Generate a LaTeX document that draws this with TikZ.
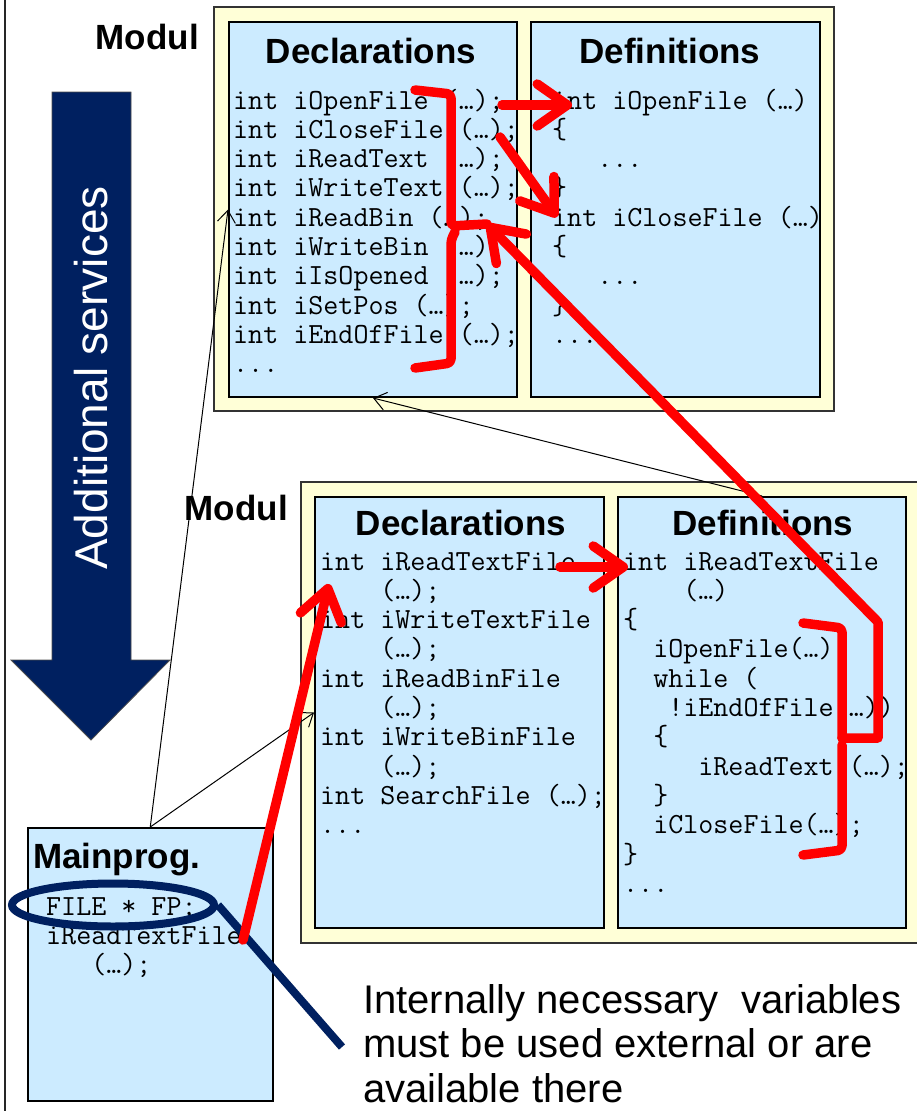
\documentclass[tikz,border=0pt]{standalone}
\usepackage{fontspec}
\setmainfont{Liberation Sans}
\setmonofont{Latin Modern Mono}
\usepackage{tikz}
\usetikzlibrary{arrows.meta, positioning, calc, shapes.geometric}

\definecolor{modyellow}{RGB}{255,255,215}
\definecolor{partblue}{RGB}{204,235,255}
\definecolor{navyblue}{RGB}{0,32,96}
\newcommand{\codefont}{\ttfamily\fontsize{29.2}{29.3}\selectfont}
\newcommand{\titlefont}{\bfseries\fontsize{35}{40}\selectfont}
\newcommand{\threedots}{...}

\begin{document}
\begin{tikzpicture}[x=1pt, y=-1pt,
    modbox/.style={draw=black!80, line width=1.5pt, fill=modyellow, inner sep=0pt, anchor=north west},
    partbox/.style={draw=black, line width=2pt, fill=partblue, inner sep=0pt, anchor=north west},
    title/.style={font=\titlefont, inner sep=0pt, anchor=base},
    code/.style={font=\codefont, inner sep=0pt, anchor=base west},
    link/.style={line width=1pt, -{Straight Barb[length=12pt,width=18pt]}},
    redline/.style={red, line width=9.5pt, line cap=round, line join=round},
    redarrow/.style={redline, -{Straight Barb[length=30pt,width=42pt,round]}},
    navyline/.style={navyblue, line width=8pt}]

    \useasboundingbox (0,0) rectangle (916,1111);
    \draw[line width=2.5pt, black!85] (5,-5) -- (5,1116);

    % big arrow on the left
    \filldraw[fill=navyblue, draw=black!70, line width=0.8pt]
        (52,92) -- (131,92) -- (131,660) -- (170,660) -- (91,740) -- (11,660) -- (52,660) -- cycle;
    \node[rotate=90, text=white, font=\fontsize{46}{50}\selectfont, inner sep=0pt] (services) at (91,378) {Additional services};

    % upper module
    \node[modbox, minimum width=620pt, minimum height=404pt] (topmod) at (213,6) {};
    \node[partbox, minimum width=288pt, minimum height=375pt] (topdecl) at (228,21) {};
    \node[partbox, minimum width=289pt, minimum height=375pt] (topdef) at (530,21) {};
    \node[title, anchor=base east] (topmodlabel) at (199,49) {Modul};
    \node[title] (topdecltitle) at (371,63) {Declarations};
    \node[title] (topdeftitle) at (670,63) {Definitions};

    \foreach \txt [count=\i] in {int iOpenFile (…);, int iCloseFile (…);, int iReadText (…);,
        int iWriteText (…);, int iReadBin (…);, int iWriteBin (…);, int iIsOpened (…);,
        int iSetPos (…);, int iEndOfFile (…);, \threedots}
        \node[code] (tdl\i) at (233, 109+29.3*\i-29.3) {\txt};
    \foreach \txt [count=\i] in {int iOpenFile (…), \{, ~~~\threedots, \}, int iCloseFile (…),
        \{, ~~~\threedots, \}, \threedots}
        \node[code] (tfl\i) at (552, 109+29.3*\i-29.3) {\txt};

    % lower module
    \node[modbox, minimum width=618pt, minimum height=461pt] (lowmod) at (300,481) {};
    \node[partbox, minimum width=289pt, minimum height=431pt] (lowdecl) at (314,496) {};
    \node[partbox, minimum width=288pt, minimum height=431pt] (lowdef) at (617,496) {};
    \node[title, anchor=base east] (lowmodlabel) at (288,520) {Modul};
    \node[title] (lowdecltitle) at (461,535) {Declarations};
    \node[title] (lowdeftitle) at (763,535) {Definitions};

    \foreach \txt [count=\i] in {int iReadTextFile, ~~~~(…);, int iWriteTextFile, ~~~~(…);,
        int iReadBinFile, ~~~~(…);, int iWriteBinFile, ~~~~(…);, int SearchFile (…);, \threedots}
        \node[code] (ldl\i) at (320, 570+29.3*\i-29.3) {\txt};
    \foreach \txt [count=\i] in {int iReadTextFile, ~~~~(…), \{, ~~iOpenFile(…);, ~~while (,
        ~~~!iEndOfFile(…)), ~~\{, ~~~~~iReadText (…);, ~~\}, ~~iCloseFile(…);, \}, \threedots}
        \node[code] (lfl\i) at (623, 570+29.3*\i-29.3) {\txt};

    % main program
    \node[partbox, line width=1.5pt, minimum width=245pt, minimum height=273pt] (mainprog) at (27,827) {};
    \node[title, anchor=base west] (maintitle) at (33,868) {Mainprog.};
    \foreach \txt [count=\i] in {FILE * FP;, iReadTextFile, ~~~(…);}
        \node[code] (mpl\i) at (46, 915+29*\i-29) {\txt};

    % thin links
    \draw[link] (mainprog.north) -- (topdecl.west);
    \draw[link] (mainprog.north) -- (lowdecl.west);
    \draw[link] (lowdef.north) -- (topdecl.south);

    % marked variable and remark
    \node[draw=navyblue, line width=8pt, ellipse, minimum width=202pt, minimum height=43pt, inner sep=0pt] (fpmark) at (113,905) {};
    \coordinate (noteend) at (342,1047);
    \draw[navyline] (fpmark.east) -- (noteend);
    \foreach \txt [count=\i] in {Internally necessary~ variables, must be used external or are, available there}
        \node[font=\fontsize{40}{46}\selectfont, inner sep=0pt, anchor=base west] (note\i) at (363, 1013+44.5*\i-44.5) {\txt};

    % red marks
    \coordinate (openD) at (502,105);
    \coordinate (openI) at (572,105);
    \coordinate (closeD) at (500,137);
    \coordinate (closeI) at (557,217);
    \coordinate (rtfD) at (560,567);
    \coordinate (rtfI) at (628,567);
    \coordinate (callRtf) at (243,940);
    \coordinate (protoRtf) at (329,584);
    \coordinate (useTip) at (487,224);
    \coordinate (useTop) at (878,622);
    \coordinate (useMid) at (878,738);
    \coordinate (braceMid) at (842,738);

    \draw[redline, rounded corners=4pt] (415,90) -- (451,94) -- (451,226) -- (useTip);
    \draw[redline, rounded corners=4pt] (455,232) -- (451,240) -- (451,363) -- (415,368);
    \draw[redline, rounded corners=4pt] (803,623) -- (842,628) -- (braceMid);
    \draw[redline, rounded corners=4pt] (842,745) -- (842,850) -- (803,855);

    \draw[redarrow] (openD) -- (openI);
    \draw[redarrow] (closeD) -- (closeI);
    \draw[redarrow] (rtfD) -- (rtfI);
    \draw[redarrow] (callRtf) -- (protoRtf);
    \draw[redarrow] (braceMid) -- (useMid) -- (useTop) -- (useTip);
\end{tikzpicture}
\end{document}
